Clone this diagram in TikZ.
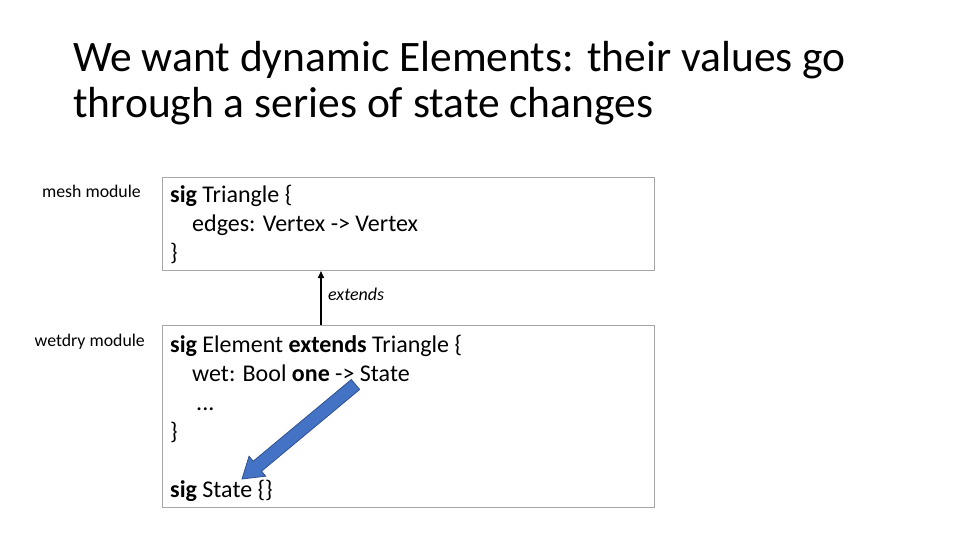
\documentclass[tikz,border=0pt]{standalone}
\usepackage{fontspec}
\setmainfont{Carlito}
\usetikzlibrary{calc,arrows.meta}

\definecolor{boxgray}{HTML}{A6A6A6}
\definecolor{arrowblue}{HTML}{4472C4}
\definecolor{arrowedge}{HTML}{2F528F}

\tikzset{
  codebox/.style={draw=boxgray, line width=1pt, anchor=north west, inner sep=0pt,
    minimum width=492pt},
  codeline/.style={anchor=base west, inner sep=0pt, font=\fontsize{24}{24}\selectfont},
  modlabel/.style={anchor=base east, inner sep=0pt, font=\fontsize{17.8}{18}\selectfont},
  titleline/.style={anchor=base west, inner sep=0pt, font=\fontsize{43.5}{46}\selectfont},
}

\begin{document}
\begin{tikzpicture}[x=1pt, y=-1pt]
        \useasboundingbox (0,0) rectangle (960,540);
        % title
        \node[titleline] (title1) at (73,72) {We want dynamic Elements: their values go};
        \node[titleline] (title2) at (73,118) {through a series of state changes};
        % modules
        \node[modlabel] (meshlbl) at (141,197) {mesh module};
        \node[modlabel] (wetlbl) at (145,346) {wetdry module};
        \node[codebox, minimum height=93pt] (mesh) at (162,177) {};
        \node[codebox, minimum height=182pt] (wetdry) at (162,325) {};
        % mesh text
        \node[codeline] (l1) at (170,202) {\textbf{sig} Triangle \{};
        \node[codeline] (l2) at (192,231) {edges: Vertex -> Vertex};
        \node[codeline] (l3) at (170,260) {\}};
        % wetdry text
        \node[codeline] (w1) at (170,352) {\textbf{sig} Element \textbf{extends} Triangle \{};
        \node[codeline] (w2) at (192,381) {wet: Bool \textbf{one} -> State};
        \node[codeline] (w3) at (196,410) {...};
        \node[codeline] (w4) at (170,439) {\}};
        \node[codeline] (w5) at (170,497) {\textbf{sig} State \{\}};
        % extends
        \coordinate (extbot) at (321,325);
        \draw[line width=1.5pt, -{Triangle[length=7pt,width=6pt]}] (extbot) -- (extbot |- mesh.south);
        \node[anchor=base west, inner sep=0pt, font=\fontsize{18}{18}\selectfont\itshape] (extlbl) at (328,300) {extends};
        % blue arrow
        \coordinate (atail) at (355.5,384.5);
        \coordinate (atip) at (242,479);
        \coordinate (abase) at ($(atip)!20pt!(atail)$);
        \filldraw[fill=arrowblue, draw=arrowedge, line width=0.8pt, line join=miter]
          ($(atail)!6.5pt!90:(atip)$) -- ($(abase)!6.5pt!90:(atip)$)
          -- ($(abase)!13pt!90:(atip)$) -- (atip) -- ($(abase)!13pt!-90:(atip)$)
          -- ($(abase)!6.5pt!-90:(atip)$) -- ($(atail)!6.5pt!-90:(atip)$) -- cycle;
    \end{tikzpicture}
\end{document}
